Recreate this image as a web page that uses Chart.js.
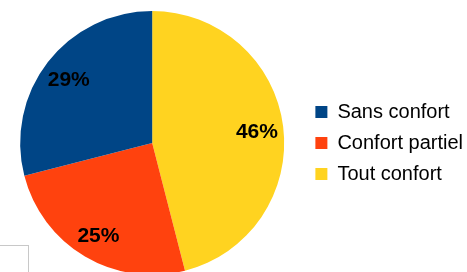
<!DOCTYPE html>
<html>
<head>
<meta charset="utf-8">
<script src="https://cdn.jsdelivr.net/npm/chart.js@4/dist/chart.umd.min.js"></script>
<style>
    html, body { margin: 0; padding: 0; background: #fff; overflow: hidden; }
    #wrap { position: relative; width: 467px; height: 272px; overflow: hidden; }
    #pieChart { position: absolute; left: 0; top: 0; }
    #corner { position: absolute; left: -2px; top: 245px; width: 29px; height: 40px;
              border: 1px solid #c8c8c8; background: #fff; }
</style>
</head>
<body>
<div id="wrap">
    <canvas id="pieChart" width="476" height="286"></canvas>
    <div id="corner"></div>
</div>
<script>
// Données
const categories = ['Sans confort', 'Confort partiel', 'Tout confort'];
const values = [29, 25, 46];
const colors = ['#004586', '#ff420e', '#ffd320'];

// LibreOffice dessine dans le sens anti-horaire : on inverse l'ordre
const order = [2, 1, 0];
const total = values.reduce((a, b) => a + b, 0);

// Pourcentages en gras dans chaque part
const pctLabels = {
    id: 'pctLabels',
    afterDatasetsDraw(chart) {
        const ctx = chart.ctx;
        const meta = chart.getDatasetMeta(0);
        ctx.save();
        ctx.font = 'bold 21px "Liberation Sans", Arial, sans-serif';
        ctx.fillStyle = '#000';
        ctx.textAlign = 'center';
        ctx.textBaseline = 'middle';
        meta.data.forEach((arc, i) => {
            const p = arc.getProps(['x', 'y', 'startAngle', 'endAngle', 'outerRadius'], true);
            const mid = (p.startAngle + p.endAngle) / 2;
            const r = p.outerRadius * 0.8;
            const v = chart.data.datasets[0].data[i];
            ctx.fillText(Math.round(v / total * 100) + '%', p.x + Math.cos(mid) * r, p.y + 2 + Math.sin(mid) * r);
        });
        ctx.restore();
    }
};

const pieChart = new Chart(document.getElementById('pieChart').getContext('2d'), {
    type: 'pie',
    data: {
        labels: order.map(i => categories[i]),
        datasets: [{
            data: order.map(i => values[i]),
            backgroundColor: order.map(i => colors[i]),
            borderWidth: 0
        }]
    },
    options: {
        responsive: false,
        animation: false,
        layout: { padding: { top: 11, bottom: 11, left: 0, right: 3 } },
        plugins: {
            legend: {
                position: 'right',
                reverse: true,
                labels: {
                    boxWidth: 12,
                    boxHeight: 12,
                    padding: 11,
                    color: '#000',
                    font: { family: '"Liberation Sans", Arial, sans-serif', size: 20 }
                }
            },
            tooltip: { enabled: false }
        }
    },
    plugins: [pctLabels]
});
</script>
</body>
</html>
